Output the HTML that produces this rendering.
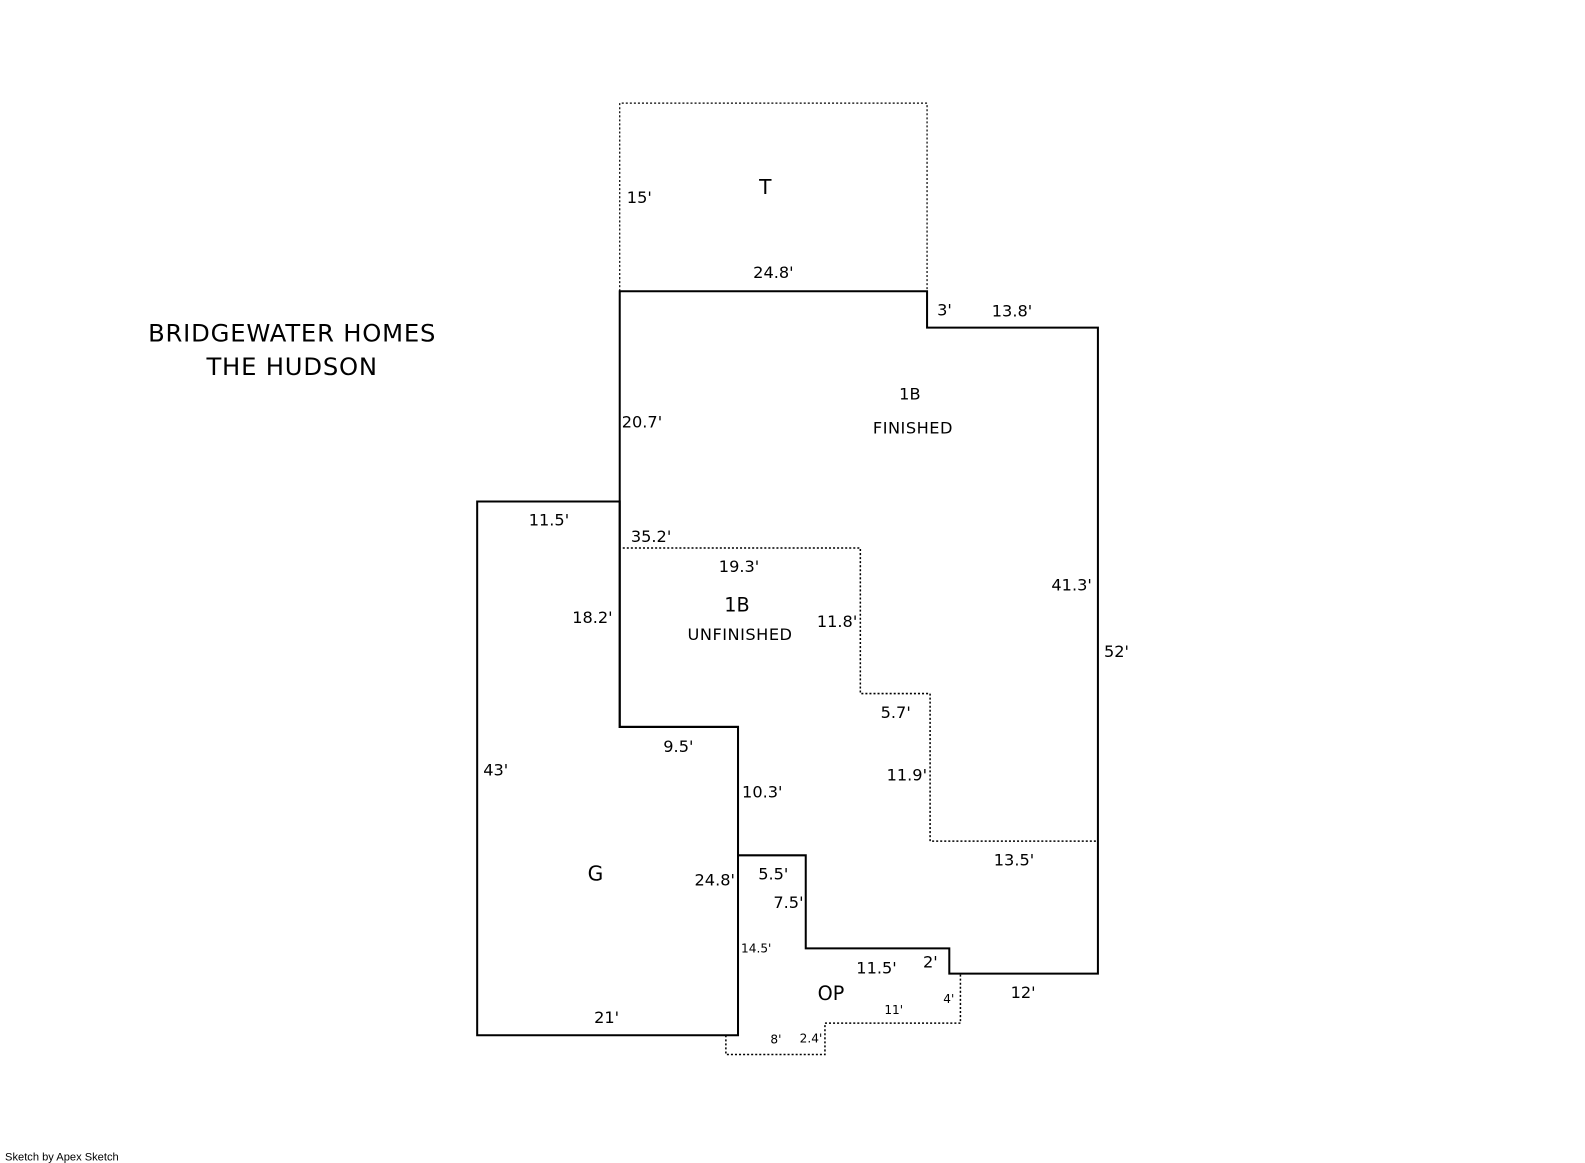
<!DOCTYPE html>
<html><head><meta charset="utf-8"><style>
html,body{margin:0;padding:0;background:#fff;width:1585px;height:1163px;overflow:hidden}
svg{display:block}
text{font-family:"DejaVu Sans","Liberation Sans",sans-serif;fill:#000}
</style></head><body>
<svg width="1585" height="1163" viewBox="0 0 1567.8 1150.3" xmlns="http://www.w3.org/2000/svg">
<g fill="none" stroke="#000">
<path d="M613,288 V102 H917 V288" stroke-width="1.2" stroke-dasharray="2,2"/>
<path d="M616,542 H851 V686 H920 V832 H1086" stroke-width="1.5" stroke-dasharray="2,2"/>
<path d="M718,1024 V1043 H816 V1012 H950 V963" stroke-width="1.5" stroke-dasharray="2,2"/>
<path d="M613,288 H917 V324 H1086 V963 H939 V938 H797 V846 H730 V719 H613 Z" stroke-width="2"/>
<path d="M472,496 H613 V719 H730 V1024 H472 Z" stroke-width="2"/>
</g>
<g font-size="16">
<text x="289" y="338" text-anchor="middle" font-size="24" letter-spacing="0.8">BRIDGEWATER HOMES</text>
<text x="289" y="371" text-anchor="middle" font-size="24" letter-spacing="0.8">THE HUDSON</text>
<text x="757" y="192" text-anchor="middle" font-size="20">T</text>
<text x="620" y="201">15'</text>
<text x="765" y="275" text-anchor="middle">24.8'</text>
<text x="927" y="312">3'</text>
<text x="1001" y="313" text-anchor="middle">13.8'</text>
<text x="900" y="395" text-anchor="middle">1B</text>
<text x="903" y="429" text-anchor="middle" letter-spacing="0.5">FINISHED</text>
<text x="615" y="423">20.7'</text>
<text x="543" y="520" text-anchor="middle">11.5'</text>
<text x="624" y="536">35.2'</text>
<text x="731" y="566" text-anchor="middle">19.3'</text>
<text x="729" y="605" text-anchor="middle" font-size="19">1B</text>
<text x="732" y="633" text-anchor="middle" letter-spacing="0.5">UNFINISHED</text>
<text x="566" y="616">18.2'</text>
<text x="808" y="620">11.8'</text>
<text x="1040" y="584">41.3'</text>
<text x="1092" y="650">52'</text>
<text x="886" y="710" text-anchor="middle">5.7'</text>
<text x="671" y="744" text-anchor="middle">9.5'</text>
<text x="478" y="767">43'</text>
<text x="734" y="789">10.3'</text>
<text x="877" y="772">11.9'</text>
<text x="1003" y="856" text-anchor="middle">13.5'</text>
<text x="589" y="871" text-anchor="middle" font-size="20">G</text>
<text x="687" y="876">24.8'</text>
<text x="750" y="870">5.5'</text>
<text x="765" y="898">7.5'</text>
<text x="733" y="942" font-size="12">14.5'</text>
<text x="867" y="963" text-anchor="middle">11.5'</text>
<text x="913" y="957">2'</text>
<text x="822" y="989" text-anchor="middle" font-size="19">OP</text>
<text x="1012" y="987" text-anchor="middle">12'</text>
<text x="884" y="1003" text-anchor="middle" font-size="12">11'</text>
<text x="933" y="992" font-size="12">4'</text>
<text x="600" y="1012" text-anchor="middle">21'</text>
<text x="762" y="1032" font-size="12">8'</text>
<text x="791" y="1031" font-size="12">2.4'</text>
<text x="5" y="1148" font-size="11" style="font-family:'Liberation Sans',sans-serif">Sketch by Apex Sketch</text>
</g>
</svg>
</body></html>
